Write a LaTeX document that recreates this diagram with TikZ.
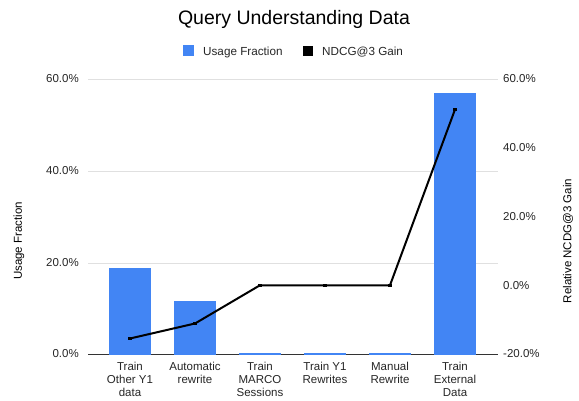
\documentclass[tikz,border=0pt]{standalone}
\usepackage{fontspec}
\setmainfont{Liberation Sans}
\definecolor{usageblue}{HTML}{4285F4}
\definecolor{gridgray}{HTML}{E0E0E0}
\definecolor{axisgray}{HTML}{333333}
\begin{document}
\begin{tikzpicture}[x=1pt, y=-1pt,
    ticklabel/.style={font=\fontsize{11.5}{13}\selectfont, text=black!85, inner sep=0pt},
    catlabel/.style={font=\fontsize{11.5}{13}\selectfont, text=black!85, align=center, inner sep=0pt, anchor=north},
    axistitle/.style={font=\fontsize{11.5}{13}\selectfont, rotate=90, inner sep=0pt},
    legendtext/.style={font=\fontsize{11.7}{13}\selectfont, text=black!85, inner sep=0pt, anchor=base west},
    bar/.style={fill=usageblue},
    gainline/.style={line width=2pt, black, line join=round},
    gainmark/.style={fill=black, minimum size=3.5pt, inner sep=0pt}]
  \useasboundingbox (0,0) rectangle (579,400);

  \node[font=\fontsize{19.5}{22}\selectfont, anchor=base] (title) at (294,24) {Query Understanding Data};

  % legend
  \node[fill=usageblue, minimum size=11pt, inner sep=0pt] (keyusage) at (188.5,50.5) {};
  \node[legendtext] (legusage) at (203,55) {Usage Fraction};
  \node[fill=black, minimum size=9.5pt, inner sep=0pt] (keygain) at (308,51) {};
  \node[legendtext] (leggain) at (322,55) {NDCG@3 Gain};

  % grid and axes
  \foreach \y in {79,171,263}
    \draw[gridgray, line width=1pt] (88,\y) -- (498,\y);
  \draw[axisgray, line width=1pt] (88,354) -- (498,354);

  \foreach \y/\t [count=\i] in {79/60.0, 171/40.0, 263/20.0, 354/0.0}
    \node[ticklabel, anchor=east] (lt\i) at (79,\y) {\t\%};
  \foreach \y/\t [count=\i] in {79/60.0, 147.75/40.0, 216.5/20.0, 285.25/0.0, 354/-20.0}
    \node[ticklabel, anchor=west] (rt\i) at (503,\y) {\t\%};

  \node[axistitle] (ytitle) at (19,241) {Usage Fraction};
  \node[axistitle] (y2title) at (568,241) {Relative NCDG@3 Gain};

  % usage bars
  \fill[bar] (109,267.5) rectangle (151,354.5);
  \fill[bar] (174,300.5) rectangle (216,354.5);
  \fill[bar] (239,352.8) rectangle (281,354.5);
  \fill[bar] (304,352.8) rectangle (346,354.5);
  \fill[bar] (369,352.8) rectangle (411,354.5);
  \fill[bar] (434,92.5) rectangle (476,354.5);

  % gain line
  \coordinate (g1) at (130,338.5);
  \coordinate (g2) at (195,323.5);
  \coordinate (g3) at (260,285.25);
  \coordinate (g4) at (325,285.25);
  \coordinate (g5) at (390,285.25);
  \coordinate (g6) at (455,109.5);
  \draw[gainline] (g1) -- (g2) -- (g3) -- (g4) -- (g5) -- (g6);
  \foreach \p in {g1,g2,g3,g4,g5,g6}
    \node[gainmark] (m\p) at (\p) {};

  % category labels
  \node[catlabel] (c1) at (130,362) {Train\\Other Y1\\data};
  \node[catlabel] (c2) at (195,362) {Automatic\\rewrite};
  \node[catlabel] (c3) at (260,362) {Train\\MARCO\\Sessions};
  \node[catlabel] (c4) at (325,362) {Train Y1\\Rewrites};
  \node[catlabel] (c5) at (390,362) {Manual\\Rewrite};
  \node[catlabel] (c6) at (455,362) {Train\\External\\Data};
\end{tikzpicture}
\end{document}
